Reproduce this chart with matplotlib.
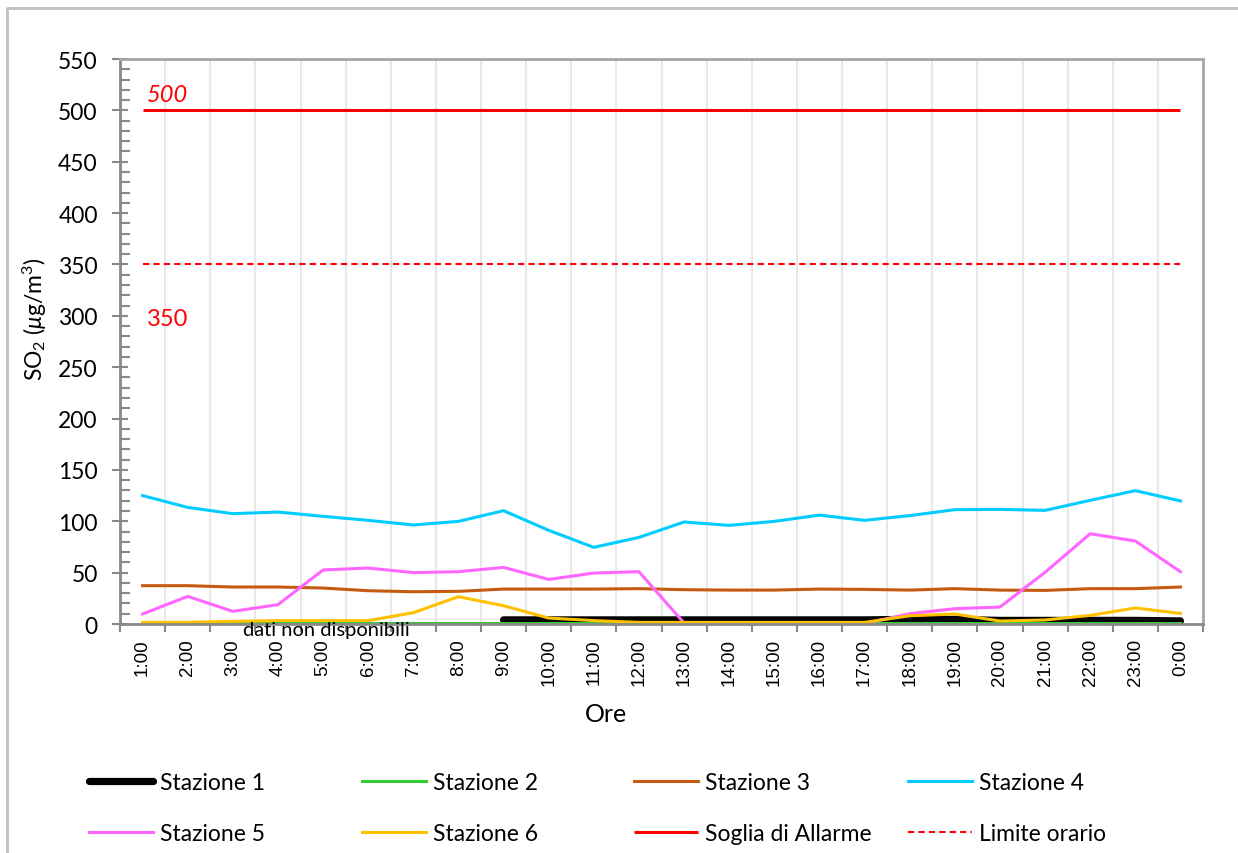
import numpy as np
import matplotlib.pyplot as plt
from matplotlib.lines import Line2D

plt.rcParams['font.family'] = ['Lato', 'DejaVu Sans']
plt.rcParams['mathtext.fontset'] = 'custom'
plt.rcParams['mathtext.rm'] = 'Lato'
plt.rcParams['mathtext.it'] = 'Lato:italic'

#hours on the x axis
ore = ['1:00', '2:00', '3:00', '4:00', '5:00', '6:00', '7:00', '8:00', '9:00', '10:00', '11:00', '12:00',
       '13:00', '14:00', '15:00', '16:00', '17:00', '18:00', '19:00', '20:00', '21:00', '22:00', '23:00', '0:00']

#station values (ug/m3), None = missing
stazione1 = [None]*8 + [4, 4, 4, 4, 4, 4, 4, 4, 4, 4.5, 4.5, 3.5, 3.5, 3.5, 3.5, 3]
stazione2 = [0.5]*24
stazione3 = [37.3, 37.3, 36, 36, 35, 32.4, 31.4, 31.8, 34, 34, 34, 34.4,
             33.4, 33, 33, 34, 33.7, 33, 34.4, 33, 32.7, 34.4, 34.4, 36]
stazione4 = [125, 113.5, 107.4, 109, 104.8, 100.9, 96.4, 99.9, 110.3, 91.2, 74.6, 84.3,
             99.3, 96, 99.9, 106, 100.9, 105.5, 111.3, 111.6, 110.6, 120.4, 129.8, 119.8]
stazione5 = [9.7, 26.9, 12.3, 18.8, 52.6, 54.5, 50, 50.9, 55.1, 43.4, 49.6, 50.9,
             1, 0.5, 0.5, 0.5, 0.5, 10, 14.9, 16.5, 50.3, 87.9, 80.8, 50.9]
stazione6 = [1.6, 1.6, 2.6, 3.3, 3.3, 3.3, 11, 26.6, 17.8, 5.8, 3.3, 1.6,
             1.6, 1.6, 1.6, 1.6, 1.6, 8, 9.7, 2.9, 3.9, 8.4, 15.6, 10.3]

soglia_allarme = 500
limite_orario = 350

x = np.arange(len(ore))
s1 = np.array([np.nan if v is None else v for v in stazione1], dtype=float)

fig = plt.figure(figsize=(12.38, 8.54), dpi=100)
ax = fig.add_axes([120/1238, 1-625/854, (1203-120)/1238, (625-60)/854])

l1, = ax.plot(x, s1, color='black', lw=5.2, solid_capstyle='round', label='Stazione 1')
l2, = ax.plot(x, stazione2, color='#33CC33', lw=2.2, label='Stazione 2')
l3, = ax.plot(x, stazione3, color='#C55A11', lw=2.2, label='Stazione 3')
l4, = ax.plot(x, stazione4, color='#00CCFF', lw=2.2, label='Stazione 4')
l5, = ax.plot(x, stazione5, color='#FF66FF', lw=2.2, label='Stazione 5')
l6, = ax.plot(x, stazione6, color='#FFC000', lw=2.2, label='Stazione 6')
l7 = ax.hlines(soglia_allarme, 0, len(ore)-1, color='#FF0000', lw=2.2, label='Soglia di Allarme')
l8 = ax.hlines(limite_orario, 0, len(ore)-1, color='#FF0000', lw=1.5, linestyles=(0, (3, 2)), label='Limite orario')

ax.text(0.1, soglia_allarme+15, str(soglia_allarme), color='#FF0000', fontsize=17, style='italic', va='center')
ax.text(0.1, limite_orario-53, str(limite_orario), color='#FF0000', fontsize=17, va='center')
ax.text(4.07, -5, 'dati non disponibili', fontsize=14.5, ha='center', va='center', clip_on=False)

ax.set_xlim(-0.49, len(ore)-1+0.49)
ax.set_ylim(0, 550)

#x ticks: marks between categories, labels at the centres
ax.set_xticks(np.arange(-0.5, len(ore), 1))
ax.set_xticklabels([])
ax.set_xticks(x, minor=True)
ax.set_xticklabels(ore, minor=True, rotation=90, family='Liberation Sans', fontsize=13.5)
ax.tick_params(axis='x', which='major', length=6, width=1.5, color='#898989', direction='out')
ax.tick_params(axis='x', which='minor', length=0, pad=10)
ax.grid(axis='x', which='major', color='#E8E8E8', lw=1.5)

ax.set_yticks(np.arange(0, 551, 50))
ax.set_yticks(np.arange(0, 551, 10), minor=True)
ax.tick_params(axis='y', which='major', length=12, width=1.5, color='#898989', direction='inout', labelsize=16.5, pad=10)
ax.tick_params(axis='y', which='minor', length=7, width=1.5, color='#898989', direction='in')

for s in ['left', 'bottom']:
    ax.spines[s].set_color('#898989')
    ax.spines[s].set_linewidth(2)
for s in ['top', 'right']:
    ax.spines[s].set_color('#A6A6A6')
    ax.spines[s].set_linewidth(2)

fig.text(35/1238, 1-319/854, 'SO$_2$ ($\\mu$g/m$^3$)', rotation=90, ha='center', va='center', fontsize=16.5)
fig.text(606/1238, 1-715/854, 'Ore', ha='center', va='center', fontsize=18)

#legend laid out as 4 columns of 2 rows
cols = [[l1, l5], [l2, l6], [l3, l7], [l4, l8]]
colx = [89, 362, 634, 908]
for hs, cx in zip(cols, colx):
    fig.legend(hs, [h.get_label() for h in hs], loc='upper left', bbox_to_anchor=(cx/1238, 1-773/854),
               frameon=False, fontsize=16.5, handlelength=2.8, handletextpad=0.28, labelspacing=1.32,
               borderpad=0, borderaxespad=0)

#outer chart border (only left and top edges are inside the picture)
fig.lines.append(Line2D([7/1238, 7/1238, 1.0], [0.0, 1-9/854, 1-9/854], transform=fig.transFigure,
                        color='#BFBFBF', lw=2))

fig.savefig('out.png', dpi=100)
